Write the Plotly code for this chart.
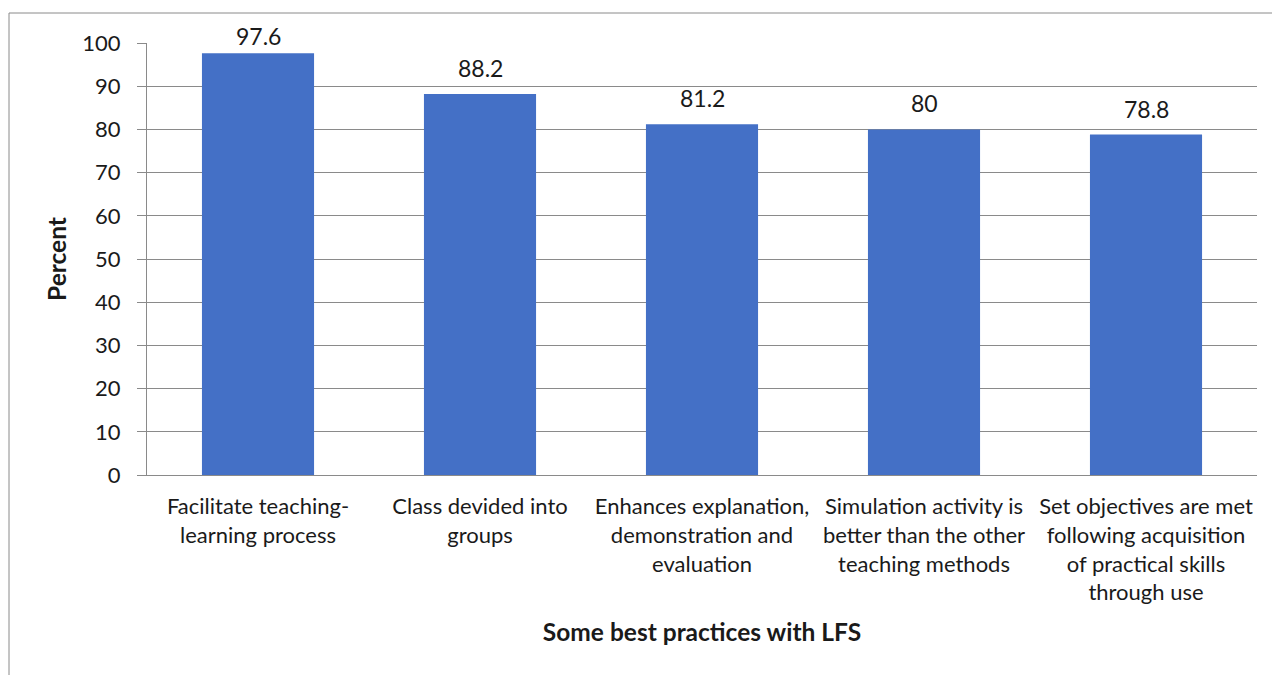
import plotly.graph_objects as go

categories = [
    "Facilitate teaching-<br>learning process",
    "Class devided into<br>groups",
    "Enhances explanation,<br>demonstration and<br>evaluation",
    "Simulation activity is<br>better than the other<br>teaching methods",
    "Set objectives are met<br>following acquisition<br>of practical skills<br>through use",
]
values = [97.6, 88.2, 81.2, 80, 78.8]
value_labels = ["97.6", "88.2", "81.2", "80", "78.8"]
y_ticks = [0, 10, 20, 30, 40, 50, 60, 70, 80, 90, 100]

FONT = "Lato"
TXT = "#1a1a1a"
GRID = "#8a8a8a"
label_shift = [17, 26, 26, 26, 26]

xs = list(range(len(categories)))

fig = go.Figure()
fig.add_trace(go.Bar(
    x=xs,
    y=values,
    marker=dict(color="#4470c6", line=dict(width=0)),
    width=0.505,
    hoverinfo="skip",
))

for xi, v, t, s in zip(xs, values, value_labels, label_shift):
    fig.add_annotation(x=xi, y=v, text=t, showarrow=False, yshift=s,
                       xref="x", yref="y", yanchor="middle",
                       font=dict(family=FONT, size=23, color=TXT))

fig.update_layout(
    width=1272, height=675,
    margin=dict(l=147, r=15, t=43, b=200, autoexpand=False),
    paper_bgcolor="white", plot_bgcolor="white",
    showlegend=False,
    font=dict(family=FONT, size=22, color=TXT),
    xaxis=dict(
        tickmode="array",
        tickvals=xs,
        ticktext=categories,
        range=[-0.5, len(categories) - 0.5],
        showgrid=False, showline=True, linecolor=GRID, linewidth=1,
        ticks="", ticklabelstandoff=12,
        tickfont=dict(family=FONT, size=22, color=TXT),
        title=dict(text="<b>Some best practices with LFS</b>", standoff=19,
                   font=dict(family=FONT, size=24.5, color=TXT)),
        automargin=False,
        fixedrange=True,
    ),
    yaxis=dict(
        range=[0, 100],
        tickvals=y_ticks,
        showgrid=True, gridcolor=GRID, gridwidth=1,
        showline=True, linecolor=GRID, linewidth=1,
        ticks="outside", ticklen=9, tickcolor=GRID,
        ticklabelstandoff=12,
        tickfont=dict(family=FONT, size=22, color=TXT),
        zeroline=False,
        title=dict(text="<b>Percent</b>", standoff=8,
                   font=dict(family=FONT, size=24.5, color=TXT)),
        automargin=False,
        fixedrange=True,
    ),
    shapes=[
        dict(type="line", xref="paper", yref="paper",
             x0=(9 - 147) / 1110, x1=(1272 - 147) / 1110,
             y0=(475 - 13) / 432, y1=(475 - 13) / 432,
             line=dict(color=GRID, width=1)),
        dict(type="line", xref="paper", yref="paper",
             x0=(9 - 147) / 1110, x1=(9 - 147) / 1110,
             y0=(475 - 13) / 432, y1=(475 - 680) / 432,
             line=dict(color=GRID, width=1)),
    ],
)

fig.write_html("out.html")
